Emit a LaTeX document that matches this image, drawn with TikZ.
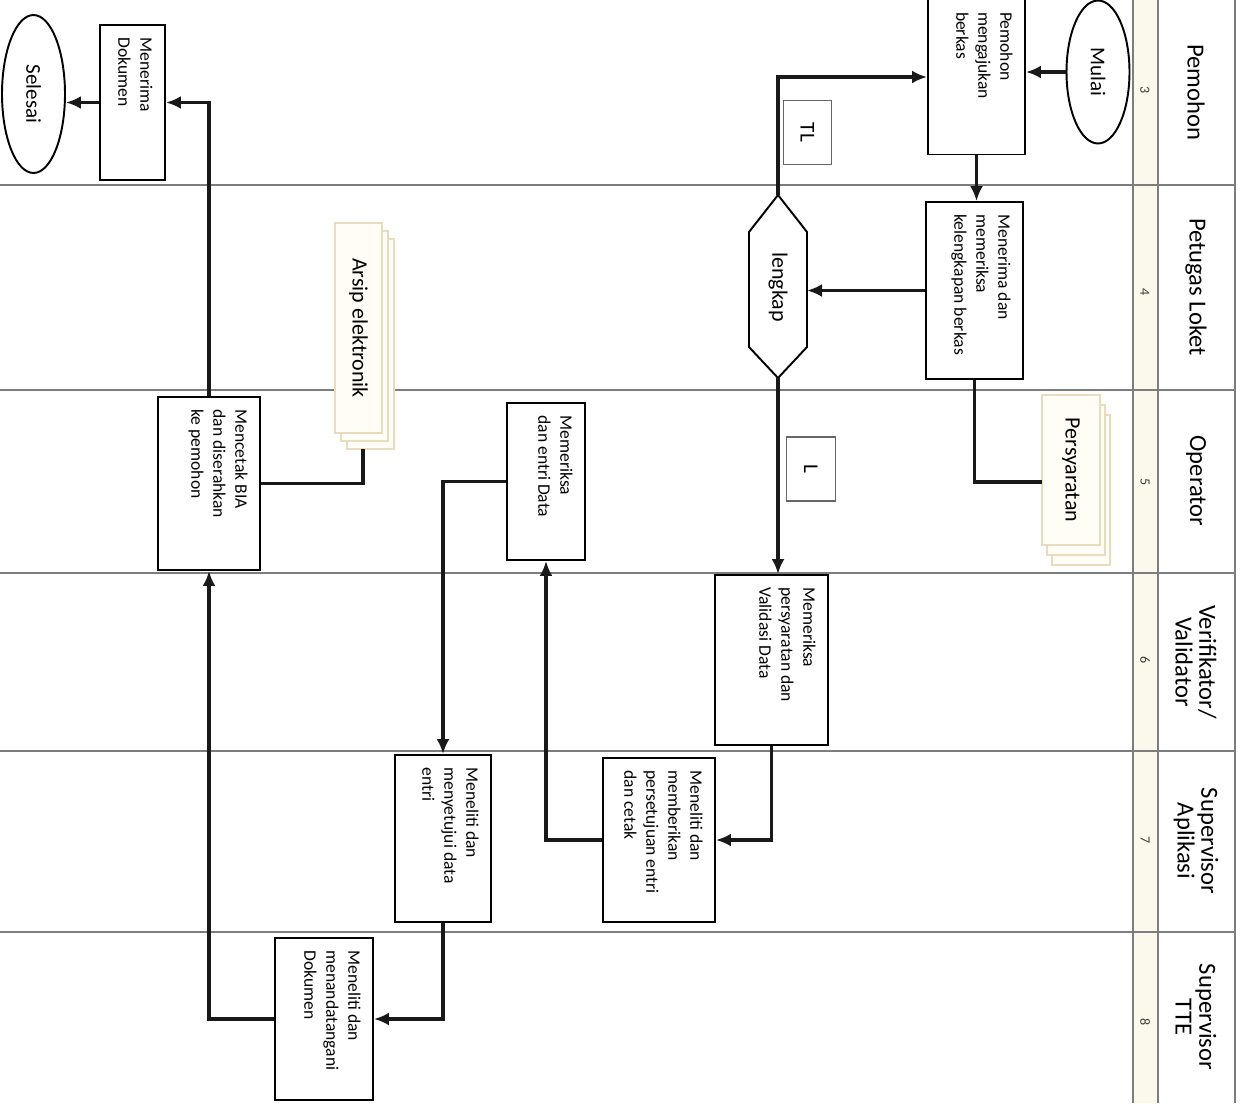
\documentclass[tikz,border=0pt]{standalone}
\usepackage{fontspec}
\setmainfont{Carlito}
\usetikzlibrary{arrows.meta,shapes.geometric}
\definecolor{pagebd}{RGB}{232,220,190}
\definecolor{pagefill}{RGB}{255,253,246}
\definecolor{numfill}{RGB}{250,249,236}
\definecolor{lanegray}{RGB}{125,125,125}
% text block of a process box, w and h in cm
\newcommand{\bx}[3]{\parbox[c][\dimexpr#2cm-0.5cm\relax][t]{\dimexpr#1cm-0.5cm\relax}{\raggedright #3}}

\begin{document}
\begin{tikzpicture}[x=0.02cm,y=-0.02cm,
  procbox/.style={draw,line width=1.1pt,rotate=-90,inner xsep=0.25cm,inner ysep=0.25cm,font=\fontsize{10}{12.5}\selectfont},
  termnode/.style={draw,ellipse,line width=1.1pt,rotate=-90,inner sep=0pt,minimum height=1.26cm,font=\fontsize{12}{14}\selectfont},
  lane/.style={draw=lanegray,line width=0.8pt},
  lanehead/.style={rotate=-90,align=center,font=\fontsize{14}{13.5}\selectfont},
  lanenum/.style={rotate=-90,font=\fontsize{8}{9}\selectfont,text=black!75},
  tagbox/.style={draw=black!60,line width=0.8pt,rotate=-90,minimum width=1.28cm,minimum height=0.97cm,font=\fontsize{12}{14}\selectfont},
  page/.style={draw=pagebd,fill=pagefill,line width=0.8pt},
  flow/.style={line width=1.9pt,draw=black!90},
  arr/.style={flow,-{Latex[length=0.3cm,width=0.26cm]}}]
\useasboundingbox (0,0) rectangle (1248,1103);
\fill[white] (0,0) rectangle (1248,1103);

% lanes
\fill[numfill] (1133,0) rectangle (1158,1103);
\foreach \y in {185,390,573,751,932} \draw[lane] (0,\y) -- (1235,\y);
\foreach \x in {1133,1158,1235} \draw[lane] (\x,0) -- (\x,1103);
\node[lanehead] (h3) at (1196,92) {Pemohon};
\node[lanehead] (h4) at (1196,287) {Petugas Loket};
\node[lanehead] (h5) at (1196,481) {Operator};
\node[lanehead] (h6) at (1196,662) {Verifikator/\\Validator};
\node[lanehead] (h7) at (1196,841) {Supervisor\\Aplikasi};
\node[lanehead] (h8) at (1196,1017) {Supervisor\\TTE};
\node[lanenum] (n3) at (1145,90) {3};
\node[lanenum] (n4) at (1145,292) {4};
\node[lanenum] (n5) at (1145,482) {5};
\node[lanenum] (n6) at (1145,660) {6};
\node[lanenum] (n7) at (1145,840) {7};
\node[lanenum] (n8) at (1145,1022) {8};

% documents
\draw[page] (1052,415) rectangle (1110,565);
\draw[page] (1047,405) rectangle (1105,555);
\node[page,rotate=-90,minimum width=3cm,minimum height=1.16cm,font=\fontsize{12.5}{14}\selectfont] (syarat) at (1071,470) {Persyaratan};
\draw[page] (347,239) rectangle (394,449);
\draw[page] (341,231) rectangle (388,441);
\node[page,rotate=-90,minimum width=4.2cm,minimum height=0.94cm,font=\fontsize{12.5}{14}\selectfont] (arsip) at (358.5,328) {Arsip elektronik};
\coordinate (syarat-in) at (1042,482);
\coordinate (arsip-in) at (363,449);

% steps
\node[termnode,minimum width=2.86cm] (mulai) at (1098,72) {Mulai};
\node[procbox] (ajukan) at (976.5,77) {\bx{3.1}{1.94}{Pemohon\\mengajukan\\berkas}};
\node[procbox] (terima) at (974.5,290.5) {\bx{3.54}{1.94}{Menerima dan\\memeriksa\\kelengkapan berkas}};
\draw[line width=1.1pt] (778,195) -- (807,232) -- (807,347) -- (778,378) -- (749,347) -- (749,232) -- cycle;
\node[rotate=-90,font=\fontsize{12.5}{14}\selectfont] (lengkap) at (778,287) {lengkap};
\coordinate (lk-n) at (778,195);
\coordinate (lk-s) at (778,378);
\coordinate (lk-e) at (807,287);
\node[tagbox] (tl) at (807.5,132.5) {TL};
\node[tagbox] (l) at (811,469) {L};
\node[procbox] (validasi) at (771.5,660) {\bx{3.4}{2.26}{Memeriksa\\persyaratan dan\\Validasi Data}};
\node[procbox] (setuju) at (659,840) {\bx{3.28}{2.24}{Meneliti dan\\memberikan\\persetujuan entri\\dan cetak}};
\node[procbox] (entri) at (546,481.5) {\bx{3.14}{1.56}{Memeriksa\\dan entri Data}};
\node[procbox] (data) at (443,838.5) {\bx{3.34}{1.92}{Meneliti dan\\menyetujui data\\entri}};
\node[procbox] (ttd) at (324,1019) {\bx{3.24}{1.96}{Meneliti dan\\menandatangani\\Dokumen}};
\node[procbox] (cetak) at (209,483.5) {\bx{3.46}{2.04}{Mencetak BIA\\dan diserahkan\\ke pemohon}};
\node[procbox] (dokumen) at (132.5,102.5) {\bx{3.1}{1.3}{Menerima\\Dokumen}};
\node[termnode,minimum width=3.16cm] (selesai) at (33.5,94) {Selesai};

% connectors
\draw[arr] (mulai.south) -- (mulai.south -| ajukan.north);
\draw[arr] (ajukan.east) -- (ajukan.east |- terima.west);
\draw[arr] (terima.south) -- (terima.south -| lk-e);
\draw[flow] (terima.east) |- (syarat-in);
\draw[arr] (lk-n) |- (ajukan.south);
\draw[arr] (lk-s) -- (lk-s |- validasi.west);
\draw[arr] (validasi.east) |- (setuju.north);
\draw[arr] (setuju.south) -| (entri.east);
\draw[arr] (entri.south) -| (data.west);
\draw[arr] (data.east) |- (ttd.north);
\draw[arr] (ttd.south) -| (cetak.east);
\draw[flow] (cetak.north) -| (arsip-in);
\draw[arr] (cetak.west) |- (dokumen.north);
\draw[arr] (dokumen.south) -- (dokumen.south -| selesai.north);
\end{tikzpicture}
\end{document}
